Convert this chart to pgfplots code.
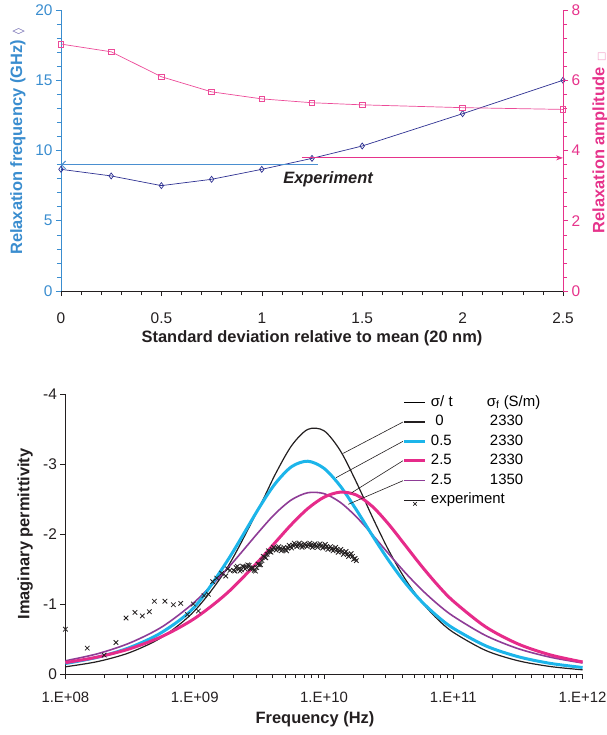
\documentclass[border=0pt]{standalone}
\usepackage{pgfplots}
\pgfplotsset{compat=1.18}
\usepackage{pgfplotstable}
\usetikzlibrary{arrows.meta}
\usepackage{fontspec}
\setmainfont{Liberation Sans}
\newfontfamily\symfont{DejaVu Sans}

\definecolor{axblue}{HTML}{3A8DCF}
\definecolor{axpink}{HTML}{E6338B}
\definecolor{navy}{HTML}{2E3192}
\definecolor{diacol}{HTML}{6A64AE}
\definecolor{ampink}{HTML}{EC4A98}
\definecolor{sqpink}{HTML}{F29BC4}
\definecolor{dgray}{HTML}{231F20}
\definecolor{cyanc}{HTML}{1CB5EA}
\definecolor{pinkc}{HTML}{E62B8A}
\definecolor{purplec}{HTML}{8E3C96}
\definecolor{expblue}{HTML}{4A8FD0}

\pgfplotsset{
  linelegend/.style={legend image code/.code={\draw[##1] (0bp,0bp) -- (21bp,0bp);}},
  explegend/.style={legend image code/.code={\path (0bp,0bp) -- (21bp,0bp); \draw[##1] plot coordinates {(10.5bp,-4bp)};}},
}

% model curves (imaginary permittivity), frequency in Hz
\pgfplotstableread{
f        black   cyan    purple  pink
1e8      -0.103  -0.150  -0.189  -0.162
1.778e8  -0.178  -0.240  -0.290  -0.243
3.162e8  -0.308  -0.380  -0.445  -0.362
5.623e8  -0.530  -0.600  -0.677  -0.539
1e9      -0.905  -0.960  -1.030  -0.795
1.778e9  -1.513  -1.610  -1.500  -1.155
3.162e9  -2.385  -2.380  -2.040  -1.624
4.217e9  -2.860  -2.725  -2.295  -1.884
5.623e9  -3.264  -2.963  -2.490  -2.140
7.499e9  -3.495  -3.040  -2.590  -2.364
1e10     -3.475  -2.938  -2.577  -2.526
1.334e10 -3.193  -2.687  -2.453  -2.598
1.778e10 -2.742  -2.346  -2.246  -2.557
2.371e10 -2.239  -1.976  -1.989  -2.392
3.162e10 -1.767  -1.623  -1.717  -2.140
4.217e10 -1.365  -1.309  -1.454  -1.847
5.623e10 -1.042  -1.045  -1.214  -1.552
7.499e10 -0.789  -0.828  -1.004  -1.279
1e11     -0.595  -0.653  -0.825  -1.041
1.778e11 -0.337  -0.403  -0.550  -0.674
3.162e11 -0.190  -0.248  -0.363  -0.430
5.623e11 -0.107  -0.152  -0.240  -0.273
1e12     -0.060  -0.093  -0.158  -0.172
}\curves

\pgfplotstableread{
f        e
1.0e8    -0.64
1.476e8  -0.37
1.995e8  -0.27
2.46e8   -0.45
2.944e8  -0.80
3.451e8  -0.88
3.936e8  -0.83
4.457e8  -0.89
4.875e8  -1.04
5.888e8  -1.04
6.839e8  -0.99
7.798e8  -1.01
8.770e8  -0.85
9.772e8  -1.00
1.067e9  -0.90
1.180e9  -1.12
1.274e9  -1.14
1.377e9  -1.32
1.479e9  -1.37
1.618e9  -1.44
1.738e9  -1.40
1.800e9  -1.50
1.875e9  -1.48
1.995e9  -1.48
2.042e9  -1.47
2.089e9  -1.52
2.138e9  -1.54
2.188e9  -1.50
2.239e9  -1.47
2.291e9  -1.49
2.344e9  -1.54
2.399e9  -1.53
2.455e9  -1.50
2.512e9  -1.52
2.570e9  -1.56
2.630e9  -1.55
2.692e9  -1.50
2.754e9  -1.51
2.818e9  -1.52
2.884e9  -1.48
2.951e9  -1.47
3.020e9  -1.52
3.090e9  -1.57
3.162e9  -1.56
3.236e9  -1.56
3.311e9  -1.62
3.388e9  -1.68
3.467e9  -1.67
3.548e9  -1.66
3.631e9  -1.71
3.715e9  -1.76
3.802e9  -1.75
3.890e9  -1.74
3.981e9  -1.78
4.074e9  -1.81
4.169e9  -1.79
4.266e9  -1.77
4.365e9  -1.80
4.467e9  -1.82
4.571e9  -1.79
4.677e9  -1.76
4.786e9  -1.78
4.898e9  -1.81
5.012e9  -1.78
5.129e9  -1.76
5.248e9  -1.80
5.370e9  -1.84
5.495e9  -1.82
5.623e9  -1.80
5.754e9  -1.84
5.888e9  -1.87
6.026e9  -1.85
6.166e9  -1.82
6.310e9  -1.84
6.457e9  -1.87
6.607e9  -1.84
6.761e9  -1.81
6.918e9  -1.83
7.079e9  -1.86
7.244e9  -1.84
7.413e9  -1.82
7.586e9  -1.85
7.762e9  -1.87
7.943e9  -1.84
8.128e9  -1.81
8.318e9  -1.84
8.511e9  -1.86
8.710e9  -1.83
8.913e9  -1.81
9.120e9  -1.84
9.333e9  -1.86
9.550e9  -1.83
9.772e9  -1.80
1.000e10 -1.82
1.023e10 -1.85
1.047e10 -1.82
1.072e10 -1.78
1.096e10 -1.80
1.122e10 -1.82
1.148e10 -1.79
1.175e10 -1.76
1.202e10 -1.78
1.230e10 -1.81
1.259e10 -1.78
1.288e10 -1.74
1.318e10 -1.76
1.349e10 -1.78
1.380e10 -1.75
1.413e10 -1.71
1.445e10 -1.73
1.479e10 -1.75
1.514e10 -1.71
1.549e10 -1.68
1.585e10 -1.70
1.622e10 -1.72
1.660e10 -1.68
1.698e10 -1.64
1.738e10 -1.65
1.778e10 -1.62
}\experiment

\begin{document}
\begin{tikzpicture}
\useasboundingbox (0bp,0bp) rectangle (607bp,-735bp);

% ---------------- top chart, left axis ----------------
\begin{axis}[
  at={(61bp,-291bp)}, anchor=south west, scale only axis,
  width=502bp, height=281bp,
  xmin=0, xmax=2.5, ymin=0, ymax=20,
  axis x line*=bottom, axis y line*=left, clip=false,
  xtick={0,0.5,1,1.5,2,2.5}, xticklabels={0,0.5,1,1.5,2,2.5},
  minor x tick num=4,
  ytick={0,5,10,15,20}, yticklabels={0,5,10,15,20},
  minor y tick num=4,
  tick align=outside, major tick length=5bp, minor tick length=4bp,
  x axis line style={dgray, line width=0.8bp},
  y axis line style={axblue, line width=0.8bp},
  x tick style={dgray, line width=0.6bp},
  y tick style={axblue, line width=0.6bp},
  xticklabel style={text=dgray, font=\fontsize{15.5}{18}\selectfont, yshift=-13bp},
  yticklabel style={text=axblue, font=\fontsize{15.5}{18}\selectfont},
  xlabel={Standard deviation relative to mean (20 nm)},
  xlabel style={font=\bfseries\fontsize{16.5}{20}\selectfont, text=dgray,
    at={(axis description cs:0.5,-0.169)}, anchor=center},
  ylabel={Relaxation frequency (GHz)\hspace{6bp}{\color{diacol}\fontsize{12}{12}\selectfont\mdseries\symfont ◊}},
  ylabel style={font=\bfseries\fontsize{16.5}{20}\selectfont, text=axblue,
    at={(axis description cs:-0.0857,0.532)}, anchor=center},
]
\addplot[navy, line width=0.7bp, mark=diamond, mark size=3bp,
  mark options={fill=white, solid, line width=0.7bp}]
  coordinates {(0,8.66) (0.25,8.19) (0.5,7.5) (0.75,7.95) (1,8.66)
               (1.25,9.44) (1.5,10.32) (2,12.62) (2.5,15.0)};
\addplot[expblue, line width=1bp, {Straight Barb[length=4bp,width=8bp]}-]
  coordinates {(0,8.97) (1.28,8.97)};
\node[font=\bfseries\itshape\fontsize{16.5}{18}\selectfont, text=dgray]
  at (axis cs:1.33,7.94) {Experiment};
\end{axis}

% ---------------- top chart, right axis ----------------
\begin{axis}[
  at={(61bp,-291bp)}, anchor=south west, scale only axis,
  width=502bp, height=281bp,
  xmin=0, xmax=2.5, ymin=0, ymax=8,
  axis x line=none, axis y line*=right, clip=false,
  ytick={0,2,4,6,8}, yticklabels={0,2,4,6,8},
  minor y tick num=4,
  tick align=outside, major tick length=5bp, minor tick length=4bp,
  y axis line style={axpink, line width=0.8bp},
  y tick style={axpink, line width=0.6bp},
  yticklabel style={text=axpink, font=\fontsize{15.5}{18}\selectfont},
  ylabel={Relaxation amplitude\hspace{6bp}{\color{sqpink}\fontsize{10}{10}\selectfont\mdseries\symfont □}},
  ylabel style={font=\bfseries\fontsize{16.5}{20}\selectfont, text=axpink,
    at={(axis description cs:1.0737,0.528)}, anchor=center},
]
\addplot[ampink, line width=0.7bp, mark=square, mark size=2.8bp,
  mark options={fill=white, solid, line width=0.7bp}]
  coordinates {(0,7.03) (0.25,6.81) (0.5,6.10) (0.75,5.67) (1,5.47)
               (1.25,5.36) (1.5,5.30) (2,5.22) (2.5,5.17)};
\addplot[axpink, line width=1bp, -{Stealth[length=7bp,width=5bp]}]
  coordinates {(1.2,3.79) (2.5,3.79)};
\end{axis}

% ---------------- bottom chart ----------------
\begin{axis}[
  at={(65.4bp,-674bp)}, anchor=south west, scale only axis,
  width=517.2bp, height=280bp,
  xmode=log, xmin=1e8, xmax=1e12, ymin=-4, ymax=0, y dir=reverse,
  axis x line*=bottom, axis y line*=left, clip=false,
  xtick={1e8,1e9,1e10,1e11,1e12},
  xticklabels={1.E+08,1.E+09,1.E+10,1.E+11,1.E+12},
  ytick={-4,-3,-2,-1,0}, yticklabels={-4,-3,-2,-1,0},
  tick align=outside, major tick length=5bp, minor tick length=4bp,
  axis line style={dgray, line width=0.8bp},
  tick style={dgray, line width=0.6bp},
  xticklabel style={text=dgray, font=\fontsize{15}{18}\selectfont, yshift=-10bp},
  yticklabel style={text=dgray, font=\fontsize{15.5}{18}\selectfont},
  xlabel={Frequency (Hz)},
  xlabel style={font=\bfseries\fontsize{16.5}{20}\selectfont, text=dgray,
    at={(axis description cs:0.4826,-0.161)}, anchor=center},
  ylabel={Imaginary permittivity},
  ylabel style={font=\bfseries\fontsize{16.5}{20}\selectfont, text=dgray,
    at={(axis description cs:-0.078,0.5)}, anchor=center},
  legend style={at={(0.6527,0.996)}, anchor=north west, draw=none, fill=none,
    inner sep=0pt, outer sep=0pt, font=\fontsize{15}{17}\selectfont,
    row sep=5bp, column sep=4bp,
    nodes={inner sep=0pt, text height=11bp, text depth=3.5bp}},
  legend cell align=left,
  linelegend,
]
\addplot[only marks, mark=x, mark size=3.2bp, dgray, line width=0.8bp, forget plot]
  table[x=f, y=e] {\experiment};
\addplot[dgray, line width=1.2bp, smooth, forget plot] table[x=f, y=black] {\curves};
\addplot[purplec, line width=1.6bp, smooth, forget plot] table[x=f, y=purple] {\curves};
\addplot[cyanc, line width=3bp, smooth, forget plot] table[x=f, y=cyan] {\curves};
\addplot[pinkc, line width=3bp, smooth, forget plot] table[x=f, y=pink] {\curves};

\addlegendimage{draw=none}
\addlegendentry{\makebox[56bp][l]{σ/ t}σ\textsubscript{f} (S/m)}
\addlegendimage{dgray, line width=1.3bp}
\addlegendentry{\makebox[59bp][l]{\hspace{4.5bp}0}2330}
\addlegendimage{cyanc, line width=3bp}
\addlegendentry{\makebox[59bp][l]{0.5}2330}
\addlegendimage{pinkc, line width=3bp}
\addlegendentry{\makebox[59bp][l]{2.5}2330}
\addlegendimage{purplec, line width=1.6bp}
\addlegendentry{\makebox[59bp][l]{2.5}1350}
\addlegendimage{dgray, mark=x, mark size=2.5bp, line width=0.6bp, explegend}
\addlegendentry{experiment}
\end{axis}

% leader lines from curves to legend
\draw[dgray, line width=0.6bp] (343.3bp,-453.3bp) -- (403bp,-422bp);
\draw[dgray, line width=0.6bp] (336bp,-477.7bp) -- (403bp,-441.3bp);
\draw[dgray, line width=0.6bp] (351.7bp,-492.7bp) -- (403bp,-460.7bp);
\draw[dgray, line width=0.6bp] (348.3bp,-504.3bp) -- (403bp,-480.7bp);
\end{tikzpicture}
\end{document}
